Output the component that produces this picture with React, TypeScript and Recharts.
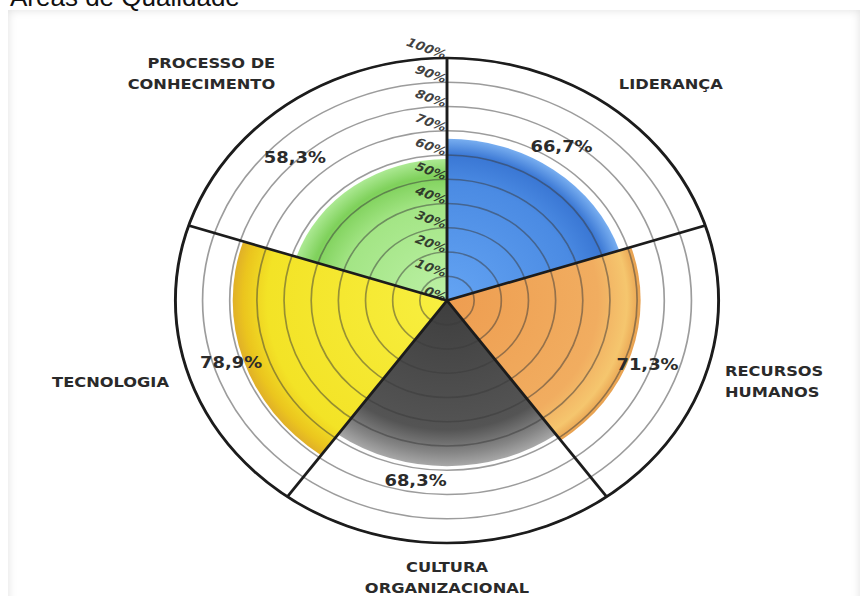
import {
  LabelList,
  PolarAngleAxis,
  PolarGrid,
  PolarRadiusAxis,
  RadialBar,
  RadialBarChart,
  Sector,
} from "recharts";

// Quality areas, clockwise from 12 o'clock; "\n" marks a line break in the label
const areas = [
  "LIDERANÇA",
  "RECURSOS\nHUMANOS",
  "CULTURA\nORGANIZACIONAL",
  "TECNOLOGIA",
  "PROCESSO DE\nCONHECIMENTO",
];
const scores = [66.7, 71.3, 68.3, 78.9, 58.3];
const percentTicks = [0, 10, 20, 30, 40, 50, 60, 70, 80, 90, 100];

const data = areas.map((name, i) => ({ name, value: scores[i] }));

// geometry of the rose (unstretched svg units)
const W = 760;
const H = 596;
const CX = 380;
const CY = 300.5;
const OUTER = 242.5;
const STRETCH = 1.12;
const BAND = 360 / areas.length;

// sector boundaries, every BAND degrees starting at the top
const boundaries = areas.map((_, i) => 90 - BAND * i);

// radial shading per sector: [offset, colour]
const shades: [string, string][][] = [
  [["0%", "#64a4f3"], ["72%", "#4b8be3"], ["90%", "#3a77d4"], ["100%", "#78aef0"]],
  [["0%", "#ee9d50"], ["78%", "#f1ad60"], ["93%", "#f5c66e"], ["100%", "#e8a04f"]],
  [["0%", "#3e3e3e"], ["78%", "#545454"], ["92%", "#868686"], ["100%", "#a8a8a8"]],
  [["0%", "#f8ef40"], ["84%", "#f3e326"], ["95%", "#ebc51e"], ["100%", "#e0b028"]],
  [["0%", "#bdf1a6"], ["68%", "#a3e585"], ["88%", "#7fd15b"], ["100%", "#ace993"]],
];

// where each value label sits: extra radius past the sector edge, and turn off the mid-angle
const valueSpots = [
  { gap: 23, turn: 2.4 },
  { gap: 17, turn: -1.5 },
  { gap: 16, turn: -8.9 },
  { gap: 11, turn: -0.3 },
  { gap: 56, turn: 7.5 },
];

const labelFont = '"DejaVu Sans", Verdana, sans-serif';

function GlossySector(props: any) {
  const { cx, cy, innerRadius, outerRadius, startAngle, endAngle, index } = props;
  const id = `shade-${index}`;
  return (
    <g>
      <defs>
        <radialGradient id={id} gradientUnits="userSpaceOnUse" cx={cx} cy={cy} r={outerRadius}>
          {shades[index % shades.length].map(([o, c]) => (
            <stop key={o} offset={o} stopColor={c} />
          ))}
        </radialGradient>
      </defs>
      <Sector
        cx={cx}
        cy={cy}
        innerRadius={innerRadius}
        outerRadius={outerRadius}
        startAngle={startAngle}
        endAngle={endAngle}
        fill={`url(#${id})`}
        stroke="none"
      />
    </g>
  );
}

function PercentTick({ x, y, payload }: any) {
  return (
    <text
      x={x - 2}
      y={y + 2}
      textAnchor="end"
      transform={`rotate(22 ${x} ${y})`}
      fontFamily={labelFont}
      fontSize={12}
      fontWeight="bold"
      fontStyle="italic"
      fill="#1e1e1e"
      fillOpacity={0.85}
    >
      {payload.value}%
    </text>
  );
}

// angle ticks land on the band edge; labels go out from the band's middle
function AreaTick({ x, y, payload }: any) {
  const edge = Math.atan2(CY - y, x - CX);
  const mid = edge + (BAND / 2) * (Math.PI / 180);
  const c = Math.cos(mid);
  const s = Math.sin(mid);
  const R = OUTER + 18.5;
  const px = CX + R * c;
  const py = CY - R * s;
  const anchor = c > 0.15 ? "start" : c < -0.15 ? "end" : "middle";
  const lines = String(payload.value).split("\n");
  const lh = 21;
  const cap = 11;
  let y0: number;
  if (s > 0.5) y0 = py - (lines.length - 1) * lh;
  else if (s < -0.5) y0 = py + cap;
  else y0 = py + cap / 2 - ((lines.length - 1) * lh) / 2;
  return (
    <text
      x={px}
      y={y0}
      textAnchor={anchor}
      fontFamily={labelFont}
      fontSize={14.5}
      fontWeight="bold"
      fill="#2a2a2a"
    >
      {lines.map((ln, i) => (
        <tspan key={ln} x={px} y={y0 + i * lh}>
          {ln}
        </tspan>
      ))}
    </text>
  );
}

function ValueLabel(props: any) {
  const { viewBox, value } = props;
  const index = props.index ?? scores.indexOf(value);
  const spot = valueSpots[index] ?? { gap: 18, turn: 0 };
  const { cx, cy, outerRadius, startAngle, endAngle } = viewBox;
  const mid = ((startAngle + endAngle) / 2 + spot.turn) * (Math.PI / 180);
  const r = outerRadius + spot.gap;
  return (
    <text
      x={cx + r * Math.cos(mid)}
      y={cy - r * Math.sin(mid)}
      textAnchor="middle"
      dominantBaseline="central"
      fontFamily={labelFont}
      fontSize={16}
      fontWeight="bold"
      fill="#2b2b2b"
    >
      {Number(value).toFixed(1).replace(".", ",")}%
    </text>
  );
}

// bars are laid out from the band start, so the sweep begins one band clockwise of 12 o'clock
const chartProps = {
  width: W,
  height: H,
  cx: CX,
  cy: CY,
  innerRadius: 0,
  outerRadius: OUTER,
  data,
  layout: "centric" as const,
  startAngle: 90 - BAND,
  endAngle: 90 - BAND - 360,
  barCategoryGap: 0,
  barGap: 0,
  margin: { top: 0, right: 0, bottom: 0, left: 0 },
};

export default function App() {
  return (
    <div
      style={{
        position: "absolute",
        left: 0,
        top: 0,
        width: 864,
        height: 596,
        overflow: "hidden",
        background: "#fff",
      }}
    >
      <div
        style={{
          position: "absolute",
          left: 8,
          top: 10,
          width: 852,
          height: 610,
          background: "#fff",
          boxShadow: "inset 0 0 10px rgba(0,0,0,0.13)",
        }}
      />
      <div
        style={{
          position: "absolute",
          left: 10,
          top: -16,
          fontFamily: '"Liberation Sans", Arial, sans-serif',
          fontSize: 26,
          lineHeight: "26px",
          color: "#111",
          whiteSpace: "nowrap",
        }}
      >
        Áreas de Qualidade
      </div>
      <div
        style={{
          position: "absolute",
          left: 447 - CX,
          top: 0,
          width: W,
          height: H,
          transform: `scaleX(${STRETCH})`,
          transformOrigin: `${CX}px 0`,
        }}
      >
        {/* coloured sectors */}
        <div style={{ position: "absolute", left: 0, top: 0 }}>
          <RadialBarChart {...chartProps}>
            <PolarAngleAxis type="category" dataKey="name" tick={false} axisLine={false} tickLine={false} />
            <PolarRadiusAxis type="number" domain={[0, 100]} ticks={percentTicks} tick={false} axisLine={false} tickLine={false} />
            <RadialBar dataKey="value" isAnimationActive={false} shape={GlossySector} />
          </RadialBarChart>
        </div>
        {/* rings, spokes and labels drawn over the sectors */}
        <div style={{ position: "absolute", left: 0, top: 0 }}>
          <RadialBarChart {...chartProps}>
            <PolarGrid gridType="circle" radialLines={false} stroke="#3a3a3a" strokeOpacity={0.5} strokeWidth={1.5} />
            <PolarGrid gridType="circle" polarRadius={[OUTER]} polarAngles={boundaries} stroke="#1c1c1c" strokeWidth={2.6} />
            <PolarAngleAxis
              type="category"
              dataKey="name"
              tick={AreaTick}
              tickSize={18.5}
              axisLine={false}
              tickLine={false}
            />
            <PolarRadiusAxis
              type="number"
              angle={90}
              domain={[0, 100]}
              ticks={percentTicks}
              tick={PercentTick}
              axisLine={false}
              tickLine={false}
            />
            <RadialBar dataKey="value" fill="none" isAnimationActive={false}>
              <LabelList dataKey="value" content={ValueLabel} />
            </RadialBar>
          </RadialBarChart>
        </div>
      </div>
    </div>
  );
}
